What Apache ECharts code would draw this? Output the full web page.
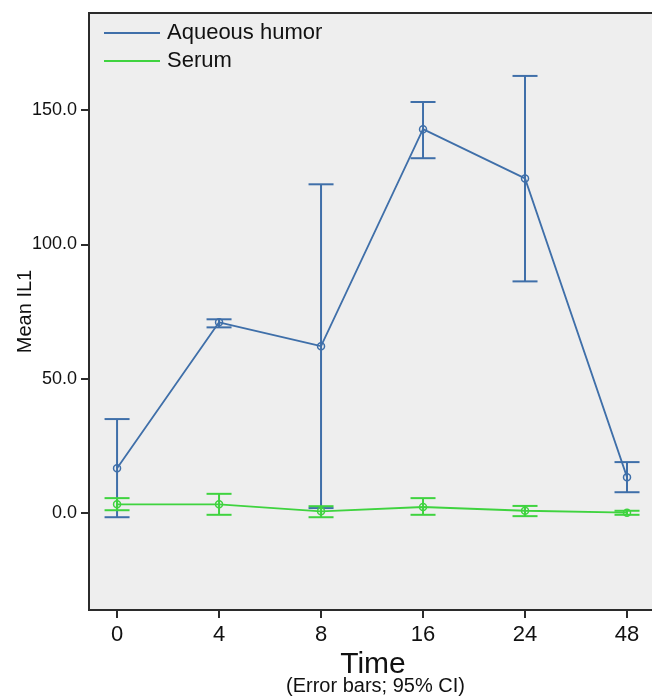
<!DOCTYPE html>
<html>
<head>
<meta charset="utf-8">
<script src="https://cdn.jsdelivr.net/npm/echarts@6/dist/echarts.min.js"></script>
<style>
html,body{margin:0;padding:0;background:#fff;}
#chart{width:652px;height:696px;}
</style>
</head>
<body>
<div id="chart"></div>
<script>
const times = ['0', '4', '8', '16', '24', '48'];
const aqMean = [16.7, 71.0, 62.1, 142.8, 124.5, 13.4];
const aqLow  = [-1.5, 69.1, 1.9, 132.0, 86.2, 7.8];
const aqHigh = [35.0, 72.1, 122.3, 152.9, 162.6, 19.0];
const seMean = [3.3, 3.3, 0.7, 2.3, 0.9, 0.2];
const seLow  = [1.1, -0.6, -1.5, -0.6, -1.1, -0.6];
const seHigh = [5.6, 7.2, 2.6, 5.6, 2.7, 0.9];
const yTicks = [0, 50, 100, 150];

const BLUE = '#3f6fa9';
const GREEN = '#3fd33f';
const idx = times.map((t, i) => i);

function errSeries(low, high, color) {
  return {
    type: 'custom',
    silent: true,
    data: idx.map(i => [i, low[i], high[i]]),
    renderItem: function (params, api) {
      const x = api.value(0);
      const lo = api.coord([x, api.value(1)]);
      const hi = api.coord([x, api.value(2)]);
      const hw = 12.5;
      const st = { stroke: color, lineWidth: 2 };
      return {
        type: 'group',
        children: [
          { type: 'line', shape: { x1: lo[0], y1: lo[1], x2: hi[0], y2: hi[1] }, style: st },
          { type: 'line', shape: { x1: lo[0] - hw, y1: lo[1], x2: lo[0] + hw, y2: lo[1] }, style: st },
          { type: 'line', shape: { x1: hi[0] - hw, y1: hi[1], x2: hi[0] + hw, y2: hi[1] }, style: st }
        ]
      };
    },
    z: 3
  };
}

const chart = echarts.init(document.getElementById('chart'), null, { renderer: 'canvas' });
chart.setOption({
  animation: false,
  backgroundColor: '#ffffff',
  textStyle: { fontFamily: 'Liberation Sans, Arial, sans-serif' },
  grid: {
    left: 89, top: 13, right: -5, bottom: 86,
    containLabel: false,
    outerBoundsMode: 'none',
    show: true, backgroundColor: '#eeeeee', borderColor: '#2b2b2b', borderWidth: 2
  },
  legend: {
    orient: 'vertical',
    left: 104, top: 22, padding: 0,
    itemWidth: 56, itemHeight: 2, itemGap: 6,
    icon: 'rect',
    data: [
      { name: 'Aqueous humor', itemStyle: { color: BLUE, borderWidth: 0 } },
      { name: 'Serum', itemStyle: { color: GREEN, borderWidth: 0 } }
    ],
    textStyle: { fontSize: 22, color: '#111', fontFamily: 'Liberation Sans, Arial, sans-serif', padding: [0, 0, 0, 2] }
  },
  xAxis: {
    type: 'value',
    min: -0.275, max: 5.294,
    splitLine: { show: false },
    axisLine: { show: true, onZero: false, lineStyle: { color: '#2b2b2b', width: 2 } },
    axisTick: { show: true, customValues: idx, length: 8, lineStyle: { color: '#2b2b2b', width: 2 } },
    axisLabel: { customValues: idx, formatter: v => times[Math.round(v)], fontSize: 22, color: '#111', margin: 14 },
    name: 'Time',
    nameLocation: 'middle',
    nameGap: 40,
    nameMoveOverlap: false,
    nameTextStyle: { fontSize: 30, color: '#111' }
  },
  yAxis: {
    type: 'value',
    min: -36, max: 186,
    splitLine: { show: false },
    axisLine: { show: true, onZero: false, lineStyle: { color: '#2b2b2b', width: 2 } },
    axisTick: { show: true, customValues: yTicks, length: 8, lineStyle: { color: '#2b2b2b', width: 2 } },
    axisLabel: { customValues: yTicks, formatter: v => v.toFixed(1), fontSize: 18, color: '#111', margin: 12 },
    name: 'Mean IL1',
    nameLocation: 'middle',
    nameRotate: 90,
    nameGap: 54,
    nameMoveOverlap: false,
    nameTextStyle: { fontSize: 20, color: '#111' }
  },
  graphic: [{
    type: 'text',
    left: 286, top: 676,
    style: { text: '(Error bars; 95% CI)', fontSize: 20, fill: '#111', font: '20px Liberation Sans, Arial, sans-serif' }
  }],
  series: [
    {
      name: 'Aqueous humor',
      type: 'line',
      data: idx.map(i => [i, aqMean[i]]),
      symbol: 'circle', symbolSize: 7,
      itemStyle: { color: 'rgba(0,0,0,0)', borderColor: BLUE, borderWidth: 1.5 },
      lineStyle: { color: BLUE, width: 1.8 },
      z: 4
    },
    {
      name: 'Serum',
      type: 'line',
      data: idx.map(i => [i, seMean[i]]),
      symbol: 'circle', symbolSize: 7,
      itemStyle: { color: 'rgba(0,0,0,0)', borderColor: GREEN, borderWidth: 1.5 },
      lineStyle: { color: GREEN, width: 1.8 },
      z: 4
    },
    errSeries(aqLow, aqHigh, BLUE),
    errSeries(seLow, seHigh, GREEN)
  ]
});
</script>
</body>
</html>
